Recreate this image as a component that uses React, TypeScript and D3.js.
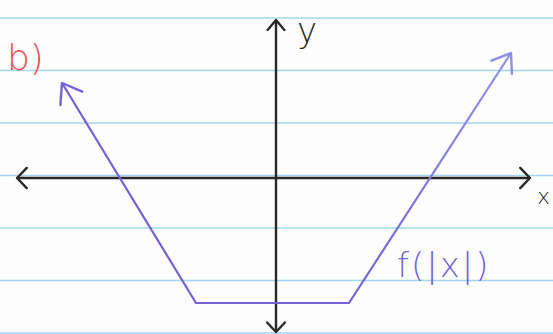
import React from "react";
import * as d3 from "d3";

const W = 553;
const H = 334;

// Graph of f(|x|): vertices of the polyline in graph units
const curveX = [-8.56, -3.2, 2.92, 9.4];
const curveY = [3.8, -5.0, -5.0, 5.0];

// Axis extents in graph units
const xAxisExtent = [-10.36, 10.16];
const yAxisExtent = [-6.16, 6.32];

// Labels
const partLabel = "b)";
const xAxisLabel = "x";
const yAxisLabel = "y";
const curveLabel = "f(|x|)";

// Notebook ruling count
const ruleCount = 7;

const x = d3.scaleLinear().domain([-11.04, 11.08]).range([0, W]);
const y = d3.scaleLinear().domain([7.12, -6.24]).range([0, H]);

const AXIS = "#2a2727";
const PURPLE = "#7163d6";
const RULE = "#a5d6f0";
const RED = "#e8505c";
const FONT = "'DejaVu Sans', 'Noto Sans', sans-serif";

function chevron(tx: number, ty: number, dx: number, dy: number, len: number, spread: number) {
  // arrowhead with tip at (tx,ty) pointing along (dx,dy)
  const a = Math.atan2(dy, dx);
  const p1 = [tx - len * Math.cos(a - spread), ty - len * Math.sin(a - spread)];
  const p2 = [tx - len * Math.cos(a + spread), ty - len * Math.sin(a + spread)];
  return `M${p1[0]},${p1[1]}L${tx},${ty}L${p2[0]},${p2[1]}`;
}

export default function App() {
  const pts: [number, number][] = curveX.map((v, i) => [x(v), y(curveY[i])]);
  const line = d3.line<[number, number]>();
  const n = pts.length;

  const rules = d3.range(ruleCount).map((i) => 18 + i * 52.5);

  const x0 = x(0);
  const y0 = y(0);

  return (
    <svg
      width={W}
      height={H}
      style={{ position: "fixed", left: 0, top: 0, background: "#fdfdfd" }}
    >
      <defs>
        <linearGradient id="ink" gradientUnits="userSpaceOnUse" x1={pts[2][0]} y1={0} x2={pts[n - 1][0]} y2={0}>
          <stop offset="0" stopColor={PURPLE} />
          <stop offset="1" stopColor="#9394ea" />
        </linearGradient>
      </defs>

      {rules.map((ry, i) => (
        <line key={i} x1={0} x2={W} y1={ry} y2={ry} stroke={RULE} strokeWidth={1.6} />
      ))}

      {/* x axis */}
      <line x1={x(xAxisExtent[0])} x2={x(xAxisExtent[1])} y1={y0} y2={y0} stroke={AXIS} strokeWidth={2.4} />
      <path d={chevron(x(xAxisExtent[0]), y0, -1, 0, 14, 0.8)} fill="none" stroke={AXIS} strokeWidth={2.4} strokeLinecap="round" strokeLinejoin="round" />
      <path d={chevron(x(xAxisExtent[1]), y0, 1, 0, 14, 0.8)} fill="none" stroke={AXIS} strokeWidth={2.4} strokeLinecap="round" strokeLinejoin="round" />

      {/* y axis */}
      <line x1={x0} x2={x0} y1={y(yAxisExtent[1])} y2={y(yAxisExtent[0])} stroke={AXIS} strokeWidth={2.4} />
      <path d={chevron(x0, y(yAxisExtent[1]), 0, -1, 13, 0.7)} fill="none" stroke={AXIS} strokeWidth={2.4} strokeLinecap="round" strokeLinejoin="round" />
      <path d={chevron(x0, y(yAxisExtent[0]), 0, 1, 13, 0.75)} fill="none" stroke={AXIS} strokeWidth={2.4} strokeLinecap="round" strokeLinejoin="round" />

      {/* f(|x|) */}
      <path d={line(pts) ?? ""} fill="none" stroke="url(#ink)" strokeWidth={2.2} strokeLinejoin="round" />
      <path
        d={chevron(pts[0][0], pts[0][1], pts[0][0] - pts[1][0], pts[0][1] - pts[1][1], 22, 0.62)}
        fill="none" stroke={PURPLE} strokeWidth={2.4} strokeLinecap="round" strokeLinejoin="round"
      />
      <path
        d={chevron(pts[n - 1][0], pts[n - 1][1], pts[n - 1][0] - pts[n - 2][0], pts[n - 1][1] - pts[n - 2][1], 21, 0.62)}
        fill="none" stroke="#8f8fe8" strokeWidth={2.4} strokeLinecap="round" strokeLinejoin="round"
      />

      {/* labels */}
      <text x={7} y={70} fontFamily={FONT} fontWeight={200} fontSize={36} fill={RED}>{partLabel}</text>
      <text x={297} y={42} fontFamily={FONT} fontWeight={200} fontSize={34} fill={AXIS}>{yAxisLabel}</text>
      <text x={537} y={204} fontFamily={FONT} fontWeight={200} fontSize={22} fill={AXIS}>{xAxisLabel}</text>
      <text x={397} y={277} fontFamily={FONT} fontWeight={200} fontSize={34} letterSpacing={2} fill={PURPLE}>{curveLabel}</text>
    </svg>
  );
}
